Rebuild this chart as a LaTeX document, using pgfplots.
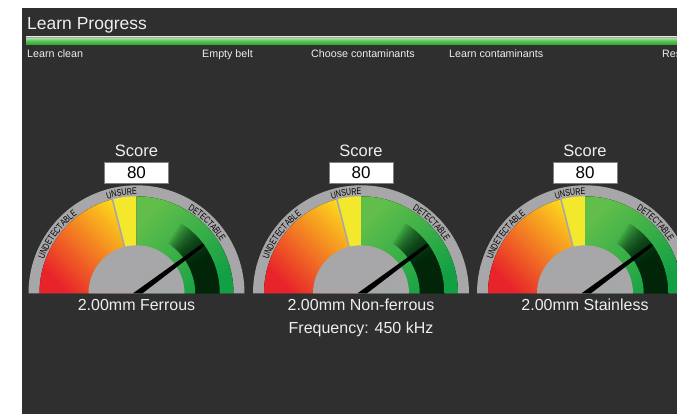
\documentclass[border=0pt]{standalone}
\usepackage{pgfplots}
\pgfplotsset{compat=1.18}
\usepackage{fontspec}
\setmainfont{Liberation Sans}
\newfontfamily\arcfont[FakeStretch=0.75]{Liberation Sans}
\usetikzlibrary{decorations.text}
\definecolor{panel}{HTML}{2F2F2F}
\definecolor{txt}{HTML}{EEEEEE}
\definecolor{ggray}{HTML}{A7A7A9}
\definecolor{gred}{HTML}{E8232A}
\definecolor{gyel}{HTML}{FDD51C}
\definecolor{uyel}{HTML}{F3E82C}
\definecolor{glight}{HTML}{62BE4A}
\definecolor{gdark}{HTML}{12A045}
\definecolor{shadow}{HTML}{021A08}
\definecolor{barA}{HTML}{C8E2C2}
\definecolor{barB}{HTML}{52C552}
\definecolor{barC}{HTML}{2E9E35}
\definecolor{barT}{HTML}{9FAE9C}
\newcommand\arcstyle{\arcfont\fontsize{9.5}{10}\selectfont\color{black}}
% zone limits (score units 0..100)
\def\unsureLow{42}
\def\detectLow{50}
\newcommand\gauge[1]{%
\pgfmathsetmacro\aU{180-1.8*\unsureLow}%
\pgfmathsetmacro\aD{180-1.8*\detectLow}%
\begin{scope}[shift={(#1,293.3)}]
 \fill[ggray] (0:108pt) arc[start angle=0,end angle=180,radius=108pt] -- cycle;
 \fill[top color=gyel,bottom color=gred,shading angle=-45] (0,0) -- (180:97pt) arc[start angle=180,end angle=\aU,radius=97pt] -- cycle;
 \fill[uyel] (0,0) -- (\aU:97pt) arc[start angle=\aU,end angle=\aD,radius=97pt] -- cycle;
 \fill[top color=glight,bottom color=gdark,shading angle=45] (0,0) -- (\aD:97pt) arc[start angle=\aD,end angle=0,radius=97pt] -- cycle;
 \foreach \a in {26,...,58}{
  \fill[shadow,opacity=0.062] (0:83pt) arc[start angle=0,end angle=\a,radius=83pt] -- (\a:59pt) arc[start angle=\a,end angle=0,radius=59pt] -- cycle;
 }
 \draw[ggray,line width=1.6pt] (\aU:46pt) -- (\aU:98pt);
 \fill[ggray] (0:48pt) arc[start angle=0,end angle=180,radius=48pt] -- cycle;
 \path[decorate,decoration={text along path,text align=center,text={|\arcstyle|UNDETECTABLE}}] (176:98.5pt) arc[start angle=176,end angle=111,radius=98.5pt];
 \path[decorate,decoration={text along path,text align=center,text={|\arcstyle|UNSURE}}] (113:98.5pt) arc[start angle=113,end angle=84,radius=98.5pt];
 \path[decorate,decoration={text along path,text align=center,text={|\arcstyle|DETECTABLE}}] (78:98.5pt) arc[start angle=78,end angle=12,radius=98.5pt];
\end{scope}
\node[anchor=base,text=txt,font=\fontsize{16.5}{18}\selectfont] at (#1,156.7) {Score};
\fill[white] (#1-32,162) rectangle (#1+32,183);
\draw[gray,line width=0.5pt] (#1-32,162) rectangle (#1+32,183);
}
\newcommand\pointer[2]{%
 \pgfmathsetmacro\th{180-1.8*#2}%
 \pgfmathsetmacro\ux{cos(\th)}\pgfmathsetmacro\uy{-sin(\th)}%
 \pgfmathsetmacro\vx{sin(\th)}\pgfmathsetmacro\vy{cos(\th)}%
 \pgfmathsetmacro\Tax{#1+83*\ux-1.5*\vx}\pgfmathsetmacro\Tay{293.3+83*\uy-1.5*\vy}%
 \pgfmathsetmacro\Tbx{#1+83*\ux+1.5*\vx}\pgfmathsetmacro\Tby{293.3+83*\uy+1.5*\vy}%
 \pgfmathsetmacro\Lx{#1-3.5}\pgfmathsetmacro\Rx{#1+6}%
 \addplot[fill=black,draw=none] coordinates {(\Lx,293.3) (\Tax,\Tay) (\Tbx,\Tby) (\Rx,293.3)} -- cycle;
}
\begin{document}
\begin{tikzpicture}
\begin{scope}[x=1pt,y=-1pt]
\useasboundingbox (0,0) rectangle (677,414);
\fill[white] (0,0) rectangle (677,414);
\fill[panel] (22,8) rectangle (677,414);
\node[anchor=base west,inner sep=0pt,text=txt,font=\fontsize{17.5}{20}\selectfont] at (27,29.8) {Learn Progress};
\fill[top color=barA,bottom color=barC,middle color=barB] (26,37) rectangle (677,45);
\fill[barT] (26,37) rectangle (677,38.2);
\begin{scope}[every node/.style={anchor=base west,inner sep=0pt,text=txt,font=\fontsize{10.7}{12}\selectfont}]
\node at (27,57.5) {Learn clean};
\node at (202,57.5) {Empty belt};
\node at (311,57.5) {Choose contaminants};
\node at (449,57.5) {Learn contaminants};
\node at (662,57.5) {Results};
\end{scope}
\gauge{136.5}
\gauge{361}
\gauge{585}
\begin{scope}[every node/.style={anchor=base,text=black,font=\fontsize{17}{19}\selectfont}]
\node at (136.5,178.8) {80};
\node at (361,178.8) {80};
\node at (585,178.8) {80};
\end{scope}
\begin{scope}[every node/.style={anchor=base,text=txt,font=\fontsize{16}{18}\selectfont}]
\node at (136.5,310) {2.00mm Ferrous};
\node at (361,310) {2.00mm Non-ferrous};
\node at (585,310) {2.00mm Stainless};
\node at (361,333.4) {Frequency: 450 kHz};
\end{scope}
\end{scope}
\begin{axis}[at={(0,0)},anchor=north west,x=1pt,y=1pt,y dir=reverse,
  xmin=0,xmax=677,ymin=0,ymax=414,hide axis,scale only axis,clip=false]
\pointer{136.5}{80}
\pointer{361}{80}
\pointer{585}{80}
\end{axis}
\pgfresetboundingbox
\useasboundingbox (0,0) rectangle (677pt,-414pt);
\end{tikzpicture}
\end{document}
